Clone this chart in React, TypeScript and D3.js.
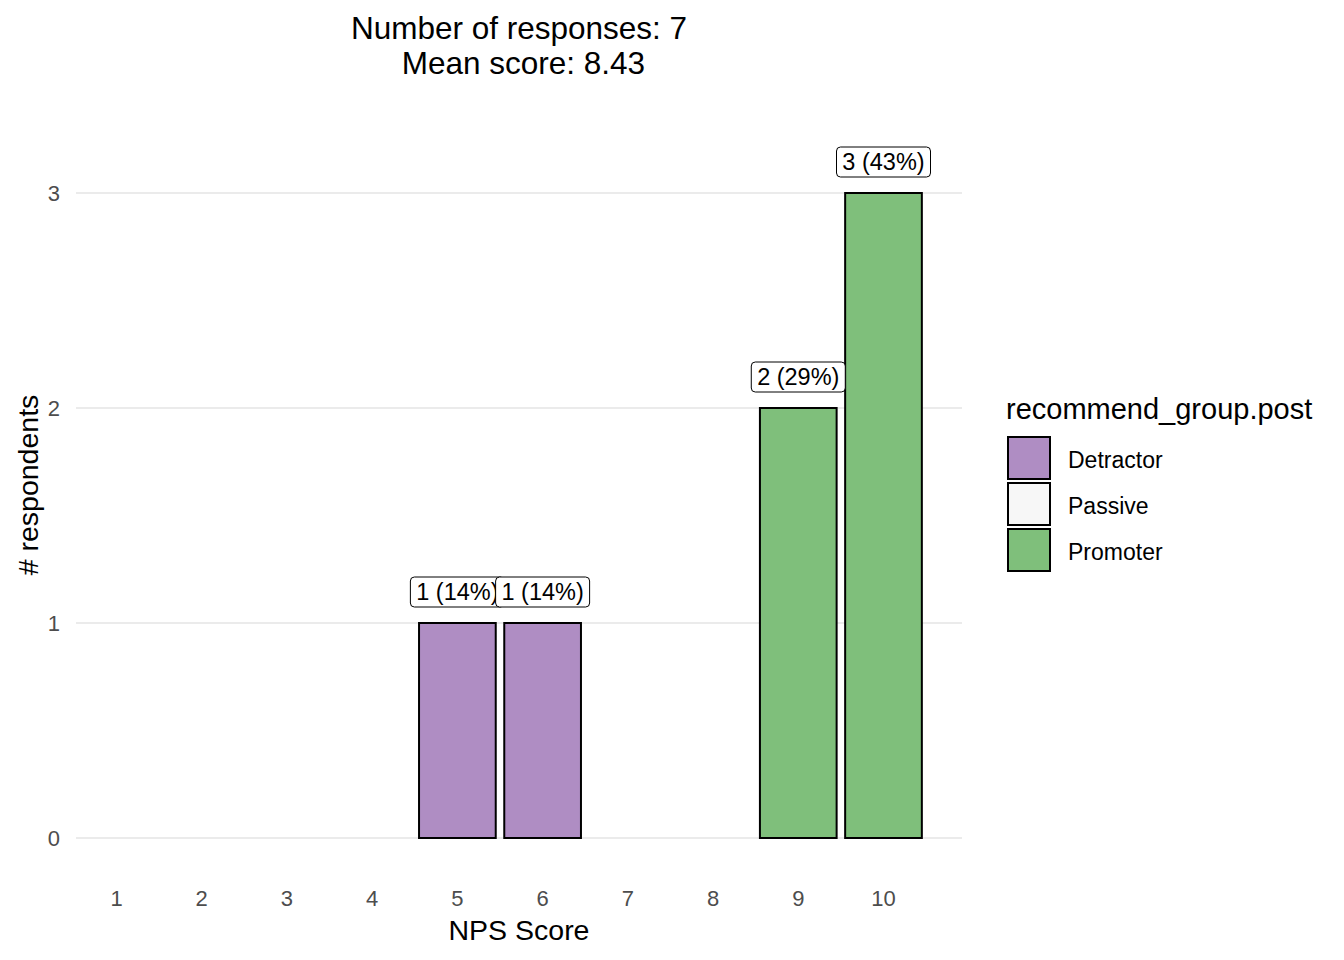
import React from "react";
import * as d3 from "d3";

const scores = [1, 2, 3, 4, 5, 6, 7, 8, 9, 10];
const barScores = [5, 6, 9, 10];
const barCounts = [1, 1, 2, 3];
const barGroups = ["Detractor", "Detractor", "Promoter", "Promoter"];
const barLabels = ["1 (14%)", "1 (14%)", "2 (29%)", "3 (43%)"];
const groups = ["Detractor", "Passive", "Promoter"];
const groupColors = ["#af8dc3", "#f7f7f7", "#7fbf7b"];
const yTicks = [0, 1, 2, 3];
const titleLines = ["Number of responses: 7", "\u00a0Mean score: 8.43"];

const FONT = "'Liberation Sans', Arial, sans-serif";

export default function App() {
  const W = 1344, H = 960;
  const panelLeft = 76, panelRight = 962;
  const x = d3.scaleLinear().domain([1, 10]).range([116.5, 883.5]);
  const y = d3.scaleLinear().domain([0, 3]).range([838, 193]);
  const color = d3.scaleOrdinal<string, string>().domain(groups).range(groupColors);
  const bw = 0.9 * (x(2) - x(1));

  return (
    <svg width={W} height={H} style={{ position: "absolute", left: 0, top: 0, background: "#fff" }} fontFamily={FONT}>
      {titleLines.map((t, i) => (
        <text key={t} x={519} y={39 + i * 35} textAnchor="middle" fontSize={31.5} fill="#000">{t}</text>
      ))}
      {yTicks.map((t) => (
        <g key={t}>
          <line x1={panelLeft} x2={panelRight} y1={y(t)} y2={y(t)} stroke="#ebebeb" strokeWidth={2} />
          <text x={60} y={y(t)} dy="0.36em" textAnchor="end" fontSize={22} fill="#4d4d4d">{t}</text>
        </g>
      ))}
      {scores.map((s) => (
        <text key={s} x={x(s)} y={906} textAnchor="middle" fontSize={22} fill="#4d4d4d">{s}</text>
      ))}
      {barScores.map((s, i) => (
        <rect key={s} x={x(s) - bw / 2} y={y(barCounts[i])} width={bw} height={y(0) - y(barCounts[i])}
          fill={color(barGroups[i])} stroke="#000" strokeWidth={2} />
      ))}
      {barScores.map((s, i) => {
        const w = 94;
        const top = y(barCounts[i]) - 46;
        return (
          <g key={"l" + s}>
            <rect x={x(s) - w / 2} y={top} width={w} height={30} rx={4} ry={4}
              fill="#fff" stroke="#000" strokeWidth={1} />
            <text x={x(s)} y={top + 15} dy="0.36em" textAnchor="middle" fontSize={23.5} fill="#000">{barLabels[i]}</text>
          </g>
        );
      })}
      <text x={519} y={940} textAnchor="middle" fontSize={28.5} fill="#000">NPS Score</text>
      <text transform={`translate(38,485) rotate(-90)`} textAnchor="middle" fontSize={28.5} fill="#000"># respondents</text>
      <text x={1006} y={419} fontSize={29} fill="#000">recommend_group.post</text>
      {groups.map((g, i) => (
        <g key={g}>
          <rect x={1008} y={437 + i * 46} width={42} height={42} fill={groupColors[i]} stroke="#000" strokeWidth={2} />
          <text x={1068} y={460 + i * 46} dy="0.36em" fontSize={23} fill="#000">{g}</text>
        </g>
      ))}
    </svg>
  );
}
